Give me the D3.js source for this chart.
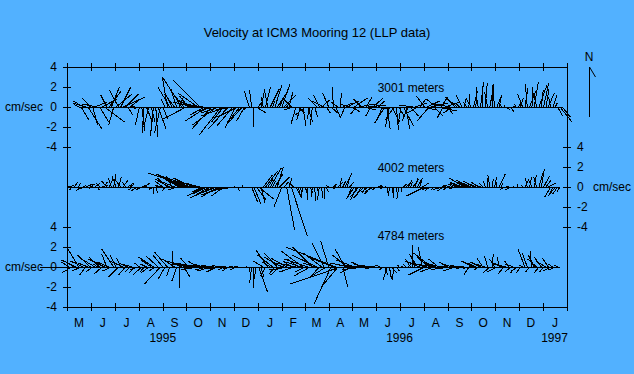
<!DOCTYPE html>
<html>
<head>
<meta charset="utf-8">
<script src="https://cdn.jsdelivr.net/npm/d3@7"></script>
<style>
  body { margin: 0; background: #52b1ff; }
  svg text { font-family: "Liberation Sans", Arial, sans-serif; font-size: 12px; fill: #000; }
</style>
</head>
<body>
<svg id="chart" width="634" height="374"></svg>
<script>
// month letters under the time axis
var monthLabels = ["M","J","J","A","S","O","N","D","J","F","M","A","M","J","J","A","S","O","N","D","J"];
var yearLabels = [["1995", new Date(1995, 8, 1)], ["1996", new Date(1996, 6, 1)], ["1997", new Date(1997, 0, 16)]];
var velTicks = [4, 2, 0, -2, -4];

// sample spacing (days) and first sample for each record
var stepDays = 3;
var start3001 = new Date(1995, 4, 16);
var start4002 = new Date(1995, 4, 1);
var start4784 = new Date(1995, 4, 1);

// [east, north] velocity in cm/sec, one pair every 3 days
var sticks3001 = [
  [-0.5,0.3],[0.8,-1.3],[-1.0,0.6],[-1.3,0.4],[1.4,-2.2],[-0.8,0.9],[0.5,-1.8],[1.2,0.5],[-1.5,0.3],[0.9,-1.5],
  [1.5,0.8],[2.0,-1.5],[-0.6,1.2],[1.2,1.6],[0.8,2.0],[-0.5,-1.8],[1.6,1.3],[-0.9,1.7],[1.0,2.0],[2.2,1.0],
  [1.3,1.3],[0.5,-0.8],[0.9,0.7],[0.2,0.1],[0.1,0.0],[-0.3,-0.2],[-0.4,-1.8],[0.3,-2.4],[-0.2,-2.6],[0.6,-1.5],
  [-0.5,-2.0],[0.4,-1.5],[-0.3,-2.9],[0.2,-3.0],[0.8,-2.2],[-0.6,-2.6],[0.5,-1.2],[-0.4,0.8],[-0.5,2.9],[-1.2,2.0],
  [-0.8,1.6],[-1.0,1.3],[-0.6,1.8],[0.4,0.9],[-1.9,3.0],[-1.2,1.5],[-2.3,-1.2],[-0.9,1.1],[-1.5,0.8],[-2.0,0.5],
  [-1.5,0.5],[-2.0,1.4],[-2.7,2.7],[-1.8,0.3],[-1.5,-0.8],[-2.2,-1.4],[-1.0,-0.5],[-2.0,-2.2],[-1.6,-0.4],[-2.4,-1.8],
  [-1.8,-0.6],[-2.2,-2.8],[-1.2,-1.5],[-2.5,-0.9],[-2.0,-2.2],[-1.4,-0.3],[-1.6,-1.9],[-1.0,-2.1],[-2.0,-1.0],[-1.3,-1.6],
  [-1.5,-1.7],[-0.8,-1.4],[-0.6,-0.5],[-0.5,1.6],[-0.2,1.7],[0.0,-2.0],[1.0,-0.6],[0.3,0.5],[0.4,1.8],[-0.2,1.0],
  [0.5,2.0],[-0.3,1.4],[0.9,1.8],[0.2,0.6],[0.7,2.2],[1.0,1.5],[0.4,1.0],[0.8,2.3],[1.2,1.2],[0.3,0.4],
  [0.4,1.5],[-0.8,0.8],[-1.0,-0.3],[-0.5,-1.7],[0.6,-0.6],[-0.4,-1.3],[0.3,-1.9],[-1.0,-0.8],[0.5,-1.5],[-0.3,-1.2],
  [-0.2,-1.8],[0.3,-1.0],[-0.9,0.9],[-0.6,1.2],[0.8,0.7],[-1.2,0.6],[0.4,-0.6],[-0.6,1.4],[0.9,-0.8],[-0.1,2.0],
  [0.5,-1.1],[-0.7,0.5],[0.1,1.4],[1.0,0.4],[-0.4,-0.9],[1.2,0.6],[-1.0,0.3],[0.8,-0.5],[1.3,0.9],[-0.6,-0.7],
  [1.5,0.3],[-0.8,0.8],[1.2,-0.3],[0.6,1.0],[1.8,0.2],[-0.5,-0.9],[1.0,0.9],[1.4,-0.2],[0.7,0.6],[-0.6,0.3],
  [-0.5,-1.2],[-1.0,-1.6],[0.3,-2.2],[-0.4,-2.0],[0.8,-1.5],[-0.9,-1.3],[0.2,-2.3],[0.6,-1.0],[-0.3,-1.7],[1.0,-1.9],
  [0.4,-2.2],[-0.6,-1.4],[0.8,-0.9],[-1.4,0.2],[1.2,0.4],[-1.0,-0.6],[0.6,0.8],[1.5,-0.3],[-0.8,1.1],[1.3,0.6],
  [-1.2,-1.4],[1.6,0.4],[0.9,-0.9],[-1.0,0.8],[1.8,-0.4],[0.7,1.0],[-0.6,-1.1],[1.4,0.5],[0.5,-0.7],[-1.6,0.3],
  [-0.9,-0.6],[-0.8,0.9],[-1.2,1.0],[-0.4,0.4],[-0.6,1.2],[0.2,0.9],[-0.3,0.5],[0.1,1.3],[-0.5,0.8],[0.4,1.6],
  [0.1,2.0],[-0.2,1.1],[0.3,2.5],[0.0,1.6],[0.2,2.4],[-0.3,1.5],[0.4,2.3],[0.1,1.8],[-0.2,2.2],[0.5,1.2],
  [0.2,1.0],[-0.3,0.5],[0.1,0.2],[0.4,-0.3],[-0.2,-0.1],[0.3,-0.5],[0.2,0.1],[-0.1,0.3],[0.5,0.6],[0.3,0.9],
  [-0.5,1.3],[0.3,1.9],[-0.2,2.3],[0.6,1.6],[0.1,2.0],[0.4,2.5],[-0.3,1.4],[0.8,2.2],[0.2,1.7],[0.5,2.4],
  [0.3,1.8],[0.6,1.4],[-0.2,1.0],[0.4,1.2],[0.2,0.4],[0.5,-0.9],[1.2,-1.5],[0.8,-1.0]
];

var sticks4002 = [
  [0.3,0.1],[0.5,0.2],[-0.2,-0.3],[0.4,0.5],[0.6,-0.2],[0.2,0.4],[-0.5,-0.4],[0.3,0.2],[0.7,0.3],[0.2,-0.2],
  [0.4,0.3],[-0.3,0.2],[0.5,0.4],[0.2,-0.3],[-0.4,0.4],[0.6,0.2],[0.3,0.5],[-0.5,0.6],[0.4,0.8],[-0.3,0.9],
  [0.2,1.3],[-0.4,1.1],[0.3,1.0],[-0.6,0.8],[0.5,0.7],[-0.3,0.5],[0.6,0.4],[0.4,0.3],[-0.4,-0.3],[0.5,-0.2],
  [-0.6,-0.4],[-0.3,-0.3],[0.5,0.2],[0.6,0.4],[-0.4,0.1],[0.3,-0.2],[-0.2,-0.3],[0.0,-0.7],[0.2,-0.6],[-0.3,0.2],
  [-0.5,0.2],[-0.8,0.6],[-0.3,-0.4],[-1.0,0.9],[-1.5,0.8],[-0.6,1.1],[-1.2,0.5],[-0.9,-0.3],[-1.8,1.0],[-2.2,1.1],
  [-2.5,1.2],[-3.0,1.3],[-1.5,0.7],[-4.3,1.4],[-2.0,0.9],[-3.5,1.1],[-1.2,0.4],[-2.8,0.6],[-1.0,-0.5],[-1.8,-0.9],
  [-1.4,-0.7],[-1.9,-1.1],[-1.0,-0.4],[-2.2,-1.0],[-1.5,-0.6],[-1.8,-1.0],[-2.0,-0.8],[-1.2,-0.9],[-1.6,-0.5],[-0.9,-0.3],
  [-0.6,-0.2],[-0.3,-0.1],[-0.1,0.1],[0.2,-0.4],[0.1,-0.1],[0.0,0.2],[-0.2,0.0],[0.1,-0.1],[0.3,0.0],[0.6,-1.5],
  [0.7,-1.7],[1.0,-1.3],[1.5,-1.2],[0.4,-1.6],[0.9,1.2],[1.2,1.6],[0.5,0.8],[1.1,1.9],[0.3,0.6],[0.8,1.3],
  [0.6,2.0],[1.0,1.0],[-0.8,-2.0],[0.4,0.5],[0.8,-4.3],[0.3,0.9],[1.6,-4.9],[-0.4,0.4],[0.5,-1.0],[0.2,-0.8],
  [0.1,-0.9],[-0.2,-1.1],[0.2,-0.7],[0.0,-1.3],[0.3,-0.6],[-0.1,-1.0],[0.1,-1.4],[0.2,-0.8],[-0.2,-1.3],[0.1,-1.1],
  [0.0,-1.2],[0.2,-0.5],[-0.3,0.2],[0.4,-0.2],[0.3,0.3],[-0.2,0.1],[0.5,0.5],[0.1,0.9],[0.3,0.6],[0.7,1.4],
  [0.2,0.8],[0.4,0.5],[-0.4,-0.9],[-0.8,-1.2],[-0.6,-1.3],[-0.9,-1.0],[-0.5,-0.8],[-1.0,-1.1],[-0.4,-0.6],[-0.7,-0.5],
  [-0.6,-0.7],[-0.8,-0.5],[-0.3,-0.3],[0.4,0.2],[0.3,0.1],[-0.2,-0.2],[0.1,0.1],[0.0,-0.6],[-0.1,-0.9],[0.2,-1.0],
  [-0.1,-1.1],[0.1,-0.8],[-0.2,-1.2],[0.0,-0.5],[0.3,0.3],[0.5,0.4],[0.4,0.7],[0.2,0.5],[0.6,0.8],[0.3,0.9],
  [0.5,0.9],[0.2,0.6],[0.7,0.4],[-1.8,-0.9],[-0.5,-0.3],[-0.4,-0.4],[-0.6,-0.2],[-0.3,-0.3],[0.2,-0.1],[-0.5,-0.3],
  [-0.4,-0.2],[-0.6,-0.4],[-0.3,0.1],[-0.5,-0.3],[-0.7,0.2],[-0.4,0.3],[-0.6,-0.2],[-0.8,0.3],[-0.9,0.4],[-1.2,0.5],
  [-1.5,0.9],[-1.0,0.5],[-1.3,0.7],[-0.8,0.4],[-1.0,0.6],[-0.6,0.3],[-0.7,0.5],[-0.5,0.2],[-0.4,0.4],[-0.2,0.6],
  [0.0,0.9],[-0.2,1.2],[0.1,0.8],[0.2,1.0],[-0.1,0.6],[0.6,1.3],[0.1,0.4],[-0.4,-0.3],[0.2,-0.2],[-0.2,0.1],
  [-0.6,-0.3],[0.1,0.1],[-0.2,-0.1],[0.0,0.3],[0.2,-0.1],[-0.1,0.2],[0.3,0.6],[-0.2,0.9],[0.2,1.0],[-0.4,0.8],
  [0.2,1.2],[-0.3,1.0],[0.4,1.4],[0.3,1.8],[0.6,1.1],[0.5,0.7],[0.8,0.4],[-0.6,-1.0],[-0.4,-0.8],[-0.7,-0.9],
  [-0.5,-0.7],[-0.3,-0.5]
];

var sticks4784 = [
  [-2.7,-0.1],[-0.8,0.5],[-1.0,-0.6],[-0.5,0.3],[-1.5,0.7],[-1.2,2.0],[-0.9,-0.4],[-1.3,0.6],[-0.6,-0.8],[-1.0,0.4],
  [-1.3,1.2],[-0.7,-0.5],[-1.5,0.9],[-0.4,0.3],[-1.1,1.0],[-0.8,-0.7],[-1.6,0.8],[-0.5,1.3],[-1.2,0.5],[-0.9,-0.4],
  [-1.2,1.8],[-0.6,1.2],[-1.0,-1.0],[-0.4,0.9],[-1.3,0.6],[-0.7,-0.8],[-0.9,0.4],[-0.5,-0.5],[-1.1,0.3],[-0.6,-0.6],
  [-0.7,-0.3],[-0.5,0.4],[-0.9,-0.8],[-0.4,-0.5],[-0.6,0.3],[-0.8,-0.6],[-1.0,0.7],[-1.5,1.0],[-0.7,-0.4],[-1.2,1.1],
  [-1.6,-1.7],[-1.0,1.2],[-0.7,-1.2],[-1.3,1.5],[-0.3,-0.9],[0.0,1.6],[-1.2,0.8],[-0.5,-1.4],[0.0,-2.1],[-1.4,0.6],
  [0.6,-1.0],[-1.5,0.5],[-0.8,0.9],[-1.8,0.3],[-1.2,-0.3],[-2.0,0.4],[-1.0,0.6],[-1.6,-0.2],[-0.9,0.3],[-1.4,0.2],
  [-1.2,-0.3],[-0.8,0.2],[-1.5,-0.4],[-0.6,0.1],[-1.0,-0.5],[-0.7,0.2],[-1.3,-0.2],[-0.5,-0.3],[-0.9,0.1],[-0.6,-0.4],
  [-0.7,-0.2],[-0.4,0.1],[-0.5,-0.3],[-0.3,0.1],[-0.2,-0.1],[-0.1,0.0],[0.0,-0.1],[-0.1,0.1],[0.1,-0.6],[-0.2,-1.6],
  [0.0,-2.1],[-0.2,-1.2],[0.9,-2.5],[0.3,-1.0],[-1.0,0.6],[-0.5,-0.9],[-1.2,1.7],[-0.8,0.5],[-1.5,1.2],[-0.6,-0.7],
  [-1.3,1.4],[-0.9,-0.8],[-1.8,1.0],[-1.0,0.3],[-1.6,0.9],[-2.0,-0.3],[-0.8,0.6],[-1.4,-0.5],[-1.9,0.4],[-1.1,0.8],
  [-1.5,0.5],[-2.2,1.6],[-1.0,-0.5],[-2.4,0.8],[-1.6,-0.9],[-2.0,2.0],[-1.2,0.4],[-2.5,1.2],[-0.9,-1.0],[-1.8,1.4],
  [-1.2,2.4],[-2.0,-1.2],[-0.8,2.6],[-1.7,-3.7],[-2.5,1.0],[-5.0,2.0],[-1.5,-1.8],[-5.0,-1.7],[0.5,-2.0],[-1.0,1.8],
  [-1.5,1.2],[-2.0,0.4],[-1.2,-0.6],[-1.8,0.7],[-1.5,-0.3],[-2.0,0.2],[-1.0,0.5],[-1.6,-0.2],[-1.2,0.3],[-1.4,-0.1],
  [-1.1,0.2],[-0.8,-0.2],[-1.0,0.1],[-0.6,-0.1],[-0.5,0.2],[-0.3,-0.3],[0.3,-0.8],[-0.4,-1.3],[0.2,-1.2],[0.5,-0.6],
  [-0.2,-1.3],[0.3,-0.4],[-0.1,0.2],[0.2,0.1],[0.1,-0.1],[-0.3,0.3],[0.4,0.4],[-0.5,0.8],[0.0,2.2],[-0.4,1.0],
  [-0.8,1.3],[-1.5,0.6],[-0.4,2.0],[-1.6,-0.8],[-2.0,0.5],[-1.2,1.0],[-1.8,1.4],[-1.4,-0.5],[-2.2,0.3],[-1.0,0.8],
  [-1.6,0.4],[-1.2,-0.3],[-1.8,0.2],[-0.9,0.5],[-1.4,-0.2],[-1.0,0.3],[-1.2,-0.4],[-0.7,0.2],[-0.9,0.1],[-0.6,-0.2],
  [-0.5,0.1],[-0.3,-0.2],[-0.5,-0.8],[-0.2,0.1],[-1.2,0.6],[-0.8,0.4],[-0.4,-0.3],[-1.0,0.5],[-0.6,0.9],[-0.9,0.3],
  [-0.3,1.1],[-0.7,-0.6],[0.1,1.3],[-0.5,0.8],[-1.0,-0.5],[-0.2,1.0],[-0.8,0.4],[-0.6,-0.7],[-1.2,0.3],[-0.4,0.6],
  [-0.6,-0.5],[-0.8,0.3],[-0.5,-0.6],[-0.7,-0.4],[-0.4,-0.6],[-0.3,0.2],[-0.7,1.8],[-0.5,1.4],[-0.4,-0.5],[-0.2,1.6],
  [-0.6,1.2],[-0.9,0.8],[-0.5,-0.6],[-0.7,1.0],[-0.4,-0.5],[-1.0,0.6],[-0.6,0.9],[-0.8,-0.4],[-0.5,0.3],[-0.7,-0.3],
  [-0.4,0.2],[-0.3,-0.1]
];

var svg = d3.select("#chart");
var plotLeft = 67, plotRight = 567, plotTop = 67, plotBottom = 307;

var x = d3.scaleTime()
  .domain([new Date(1995, 4, 1), new Date(1997, 1, 1)])
  .range([plotLeft, plotRight]);

// each record gets its own 80px band, same cm/sec scale
var yTop = d3.scaleLinear().domain([-4, 4]).range([147, 67]);
var yMid = d3.scaleLinear().domain([-4, 4]).range([227, 147]);
var yBot = d3.scaleLinear().domain([-4, 4]).range([307, 227]);

// plain hyphen minus like the original, not the unicode one d3 uses
var plainNum = function(d) { return String(d); };

function crossTicksX(g) {
  g.select(".domain").remove();
  g.selectAll(".tick line").attr("y1", -4).attr("y2", 4).attr("shape-rendering", "crispEdges");
}

// frame
svg.append("rect")
  .attr("x", plotLeft + 0.5).attr("y", plotTop + 0.5)
  .attr("width", plotRight - plotLeft).attr("height", plotBottom - plotTop)
  .attr("fill", "none").attr("stroke", "#000").attr("shape-rendering", "crispEdges");

// month ticks top and bottom
svg.append("g").attr("transform", "translate(0," + plotTop + ")")
  .call(d3.axisTop(x).ticks(d3.timeMonth.every(1)).tickFormat(""))
  .call(crossTicksX);
svg.append("g").attr("transform", "translate(0," + plotBottom + ")")
  .call(d3.axisBottom(x).ticks(d3.timeMonth.every(1)).tickFormat(""))
  .call(crossTicksX);

// month letters centred in each month
var months = d3.timeMonth.range(new Date(1995, 4, 1), new Date(1997, 1, 1));
svg.append("g").selectAll("text")
  .data(months)
  .enter().append("text")
  .attr("x", function(d) { return (x(d) + x(d3.timeMonth.offset(d, 1))) / 2; })
  .attr("y", 327)
  .attr("text-anchor", "middle")
  .text(function(d, i) { return monthLabels[i]; });

svg.append("g").selectAll("text")
  .data(yearLabels)
  .enter().append("text")
  .attr("x", function(d) { return x(d[1]); })
  .attr("y", 342)
  .attr("text-anchor", "middle")
  .text(function(d) { return d[0]; });

// velocity axes: top and bottom records on the left, middle on the right
var axTop = svg.append("g").attr("transform", "translate(" + plotLeft + ",0)")
  .call(d3.axisLeft(yTop).tickValues(velTicks).tickFormat(plainNum).tickSize(4).tickPadding(6));
var axBot = svg.append("g").attr("transform", "translate(" + plotLeft + ",0)")
  .call(d3.axisLeft(yBot).tickValues(velTicks).tickFormat(plainNum).tickSize(4).tickPadding(6));
var axMid = svg.append("g").attr("transform", "translate(" + plotRight + ",0)")
  .call(d3.axisRight(yMid).tickValues(velTicks).tickFormat(plainNum).tickSize(4).tickPadding(6));
[axTop, axBot, axMid].forEach(function(a) {
  a.select(".domain").remove();
  a.selectAll(".tick line").attr("x1", -4).attr("x2", 4).attr("shape-rendering", "crispEdges");
  a.selectAll(".tick text").style("font-size", "12px").style("font-family", "Liberation Sans, Arial, sans-serif");
});

svg.append("text").attr("x", 5).attr("y", yTop(0) + 4).text("cm/sec");
svg.append("text").attr("x", 5).attr("y", yBot(0) + 4).text("cm/sec");
svg.append("text").attr("x", 593).attr("y", yMid(0) + 4).text("cm/sec");

svg.append("text").attr("x", 317).attr("y", 37).attr("text-anchor", "middle")
  .style("font-size", "13px")
  .text("Velocity at ICM3 Mooring 12 (LLP data)");

svg.append("text").attr("x", 411).attr("y", 92).attr("text-anchor", "middle").text("3001 meters");
svg.append("text").attr("x", 411).attr("y", 172).attr("text-anchor", "middle").text("4002 meters");
svg.append("text").attr("x", 411).attr("y", 240).attr("text-anchor", "middle").text("4784 meters");

// north arrow
svg.append("text").attr("x", 589).attr("y", 61).attr("text-anchor", "middle").text("N");
svg.append("line").attr("x1", 589.5).attr("y1", 67).attr("x2", 589.5).attr("y2", 117).attr("stroke", "#000");
svg.append("line").attr("x1", 589.5).attr("y1", 67).attr("x2", 595.5).attr("y2", 77).attr("stroke", "#000");

// stick plot: each vector drawn from its time on the zero line
function drawSticks(data, start, y) {
  var k = y(0) - y(1); // px per cm/sec, same both ways
  var pts = data.map(function(d, i) {
    return { t: d3.timeDay.offset(start, i * stepDays), u: d[0], v: d[1] };
  });
  var g = svg.append("g").attr("stroke", "#000").attr("stroke-width", 1).attr("shape-rendering", "crispEdges");
  g.append("line")
    .attr("x1", x(pts[0].t)).attr("x2", x(pts[pts.length - 1].t))
    .attr("y1", y(0) + 0.5).attr("y2", y(0) + 0.5);
  g.selectAll("line.stick")
    .data(pts)
    .enter().append("line")
    .attr("class", "stick")
    .attr("x1", function(d) { return x(d.t); })
    .attr("y1", y(0))
    .attr("x2", function(d) { return x(d.t) + d.u * k; })
    .attr("y2", function(d) { return y(d.v); });
}

drawSticks(sticks3001, start3001, yTop);
drawSticks(sticks4002, start4002, yMid);
drawSticks(sticks4784, start4784, yBot);
</script>
</body>
</html>
